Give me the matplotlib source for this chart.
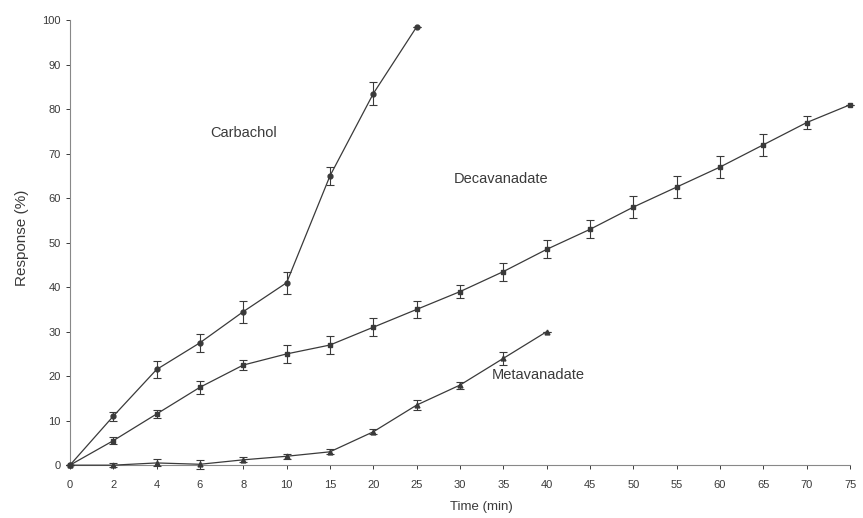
import matplotlib.pyplot as plt
import numpy as np

# time points (min) - evenly spaced on the axis
times = ['0', '2', '4', '6', '8', '10', '15', '20', '25', '30', '35', '40',
         '45', '50', '55', '60', '65', '70', '75']
yticks = [0, 10, 20, 30, 40, 50, 60, 70, 80, 90, 100]

carbachol = [0, 11, 21.5, 27.5, 34.5, 41, 65, 83.5, 98.5]
carbachol_err = [0, 1, 2, 2, 2.5, 2.5, 2, 2.5, 0]

decavanadate = [0, 5.5, 11.5, 17.5, 22.5, 25, 27, 31, 35, 39, 43.5, 48.5,
                53, 58, 62.5, 67, 72, 77, 81]
decavanadate_err = [0, 0.8, 1, 1.5, 1.2, 2, 2, 2, 2, 1.5, 2, 2,
                    2, 2.5, 2.5, 2.5, 2.5, 1.5, 0]

metavanadate = [0, 0, 0.5, 0.2, 1.2, 2, 3, 7.5, 13.5, 18, 24, 30]
metavanadate_err = [0, 0.5, 0.8, 1, 0.6, 0.6, 0.6, 0.6, 1.2, 0.8, 1.5, 0]

ink = '#3a3a3a'
plt.rcParams['font.family'] = ['Liberation Sans', 'DejaVu Sans']

fig = plt.figure(figsize=(8.63, 5.18), dpi=100)
ax = fig.add_axes([0.081, 0.102, 0.904, 0.859])

series = [
    (carbachol, carbachol_err, 'o'),
    (decavanadate, decavanadate_err, 's'),
    (metavanadate, metavanadate_err, '^'),
]
for vals, err, mk in series:
    x = np.arange(len(vals))
    ax.errorbar(x, vals, yerr=err, color=ink, lw=0.9, marker=mk, ms=3.5,
                mfc=ink, mec=ink, capsize=3, elinewidth=0.8, capthick=0.8,
                clip_on=False, zorder=3)

ax.text(4.0, 74.6, 'Carbachol', fontsize=10.5, color=ink, ha='center', va='center')
ax.text(9.95, 64.3, 'Decavanadate', fontsize=10.5, color=ink, ha='center', va='center')
ax.text(10.8, 20.2, 'Metavanadate', fontsize=10.5, color=ink, ha='center', va='center')

ax.set_xlim(0, 18)
ax.set_ylim(0, 100)
ax.set_xticks(np.arange(len(times)))
ax.set_xticklabels(times)
ax.set_yticks(yticks)
ax.tick_params(labelsize=8, colors=ink, length=3, width=0.7, direction='out')
ax.tick_params(axis='x', pad=8)
for s in ['top', 'right']:
    ax.spines[s].set_visible(False)
for s in ['left', 'bottom']:
    ax.spines[s].set_color('#888888')
    ax.spines[s].set_linewidth(0.8)

ax.set_ylabel('Response (%)', fontsize=11, color=ink, va='center')
ax.yaxis.set_label_coords(-0.062, 0.51)
ax.set_xlabel('Time (min)', fontsize=9.5, color=ink, va='center')
ax.xaxis.set_label_coords(0.527, -0.094)

fig.savefig('out.png', dpi=100)
